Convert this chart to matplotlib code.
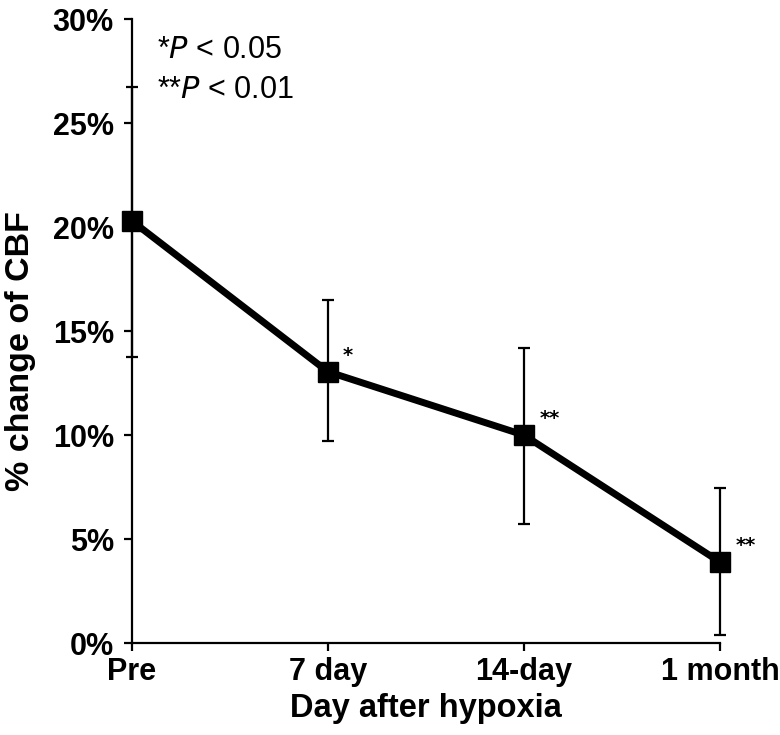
import matplotlib.pyplot as plt
import numpy as np

plt.rcParams['font.family'] = ['Liberation Sans', 'DejaVu Sans']

dias = ['Pre', '7 day', '14-day', '1 month']
media = [20.3, 13.05, 10.0, 3.9]
erro_sup = [26.75, 16.5, 14.2, 7.45]
erro_inf = [13.75, 9.7, 5.75, 0.4]
signif = ['', '*', '**', '**']

x = np.arange(len(dias))
yerr = [np.array(media) - np.array(erro_inf), np.array(erro_sup) - np.array(media)]

fig = plt.figure(figsize=(7.8, 7.35), dpi=100)
ax = fig.add_axes([0.169, 0.125, 0.754, 0.849])

ax.errorbar(x, media, yerr=yerr, fmt='none', ecolor='black', elinewidth=1.6,
            capsize=4.5, capthick=1.6, clip_on=False, zorder=2)
ax.plot(x, media, color='black', linewidth=5, marker='s', markersize=14,
        clip_on=False, zorder=3)

for xi, yi, s in zip(x, media, signif):
    if s:
        ax.annotate(s, (xi, yi), xytext=(11, 12), textcoords='offset points',
                    fontsize=14, fontweight='bold', family=['DejaVu Sans'],
                    ha='left', va='center')

ax.set_xlim(0, 3)
ax.set_ylim(0, 30)
ax.set_yticks(np.arange(0, 31, 5))
ax.set_yticklabels([f'{v}%' for v in range(0, 31, 5)])
ax.set_xticks(x)
ax.set_xticklabels(dias)

for lado in ['top', 'right']:
    ax.spines[lado].set_visible(False)
for lado in ['left', 'bottom']:
    ax.spines[lado].set_linewidth(1.6)

ax.tick_params(axis='both', direction='out', length=6, width=1.6,
               labelsize=22)
ax.tick_params(axis='x', pad=4)
ax.tick_params(axis='y', pad=7)
for lab in ax.get_xticklabels() + ax.get_yticklabels():
    lab.set_fontweight('bold')

ax.set_xlabel('Day after hypoxia', fontsize=23.5, fontweight='bold')
ax.set_ylabel('% change of CBF', fontsize=24.5, fontweight='bold')
ax.xaxis.set_label_coords(0.5, -0.105)
ax.xaxis.label.set_va('center')
ax.yaxis.set_label_coords(-0.19, 0.468)
ax.yaxis.label.set_va('center')

ax.text(0.043, 0.950, r'*$\it{P}$ < 0.05', transform=ax.transAxes, fontsize=22,
        va='center')
ax.text(0.043, 0.886, r'**$\it{P}$ < 0.01', transform=ax.transAxes, fontsize=22,
        va='center')

plt.savefig('out.png', dpi=100)
